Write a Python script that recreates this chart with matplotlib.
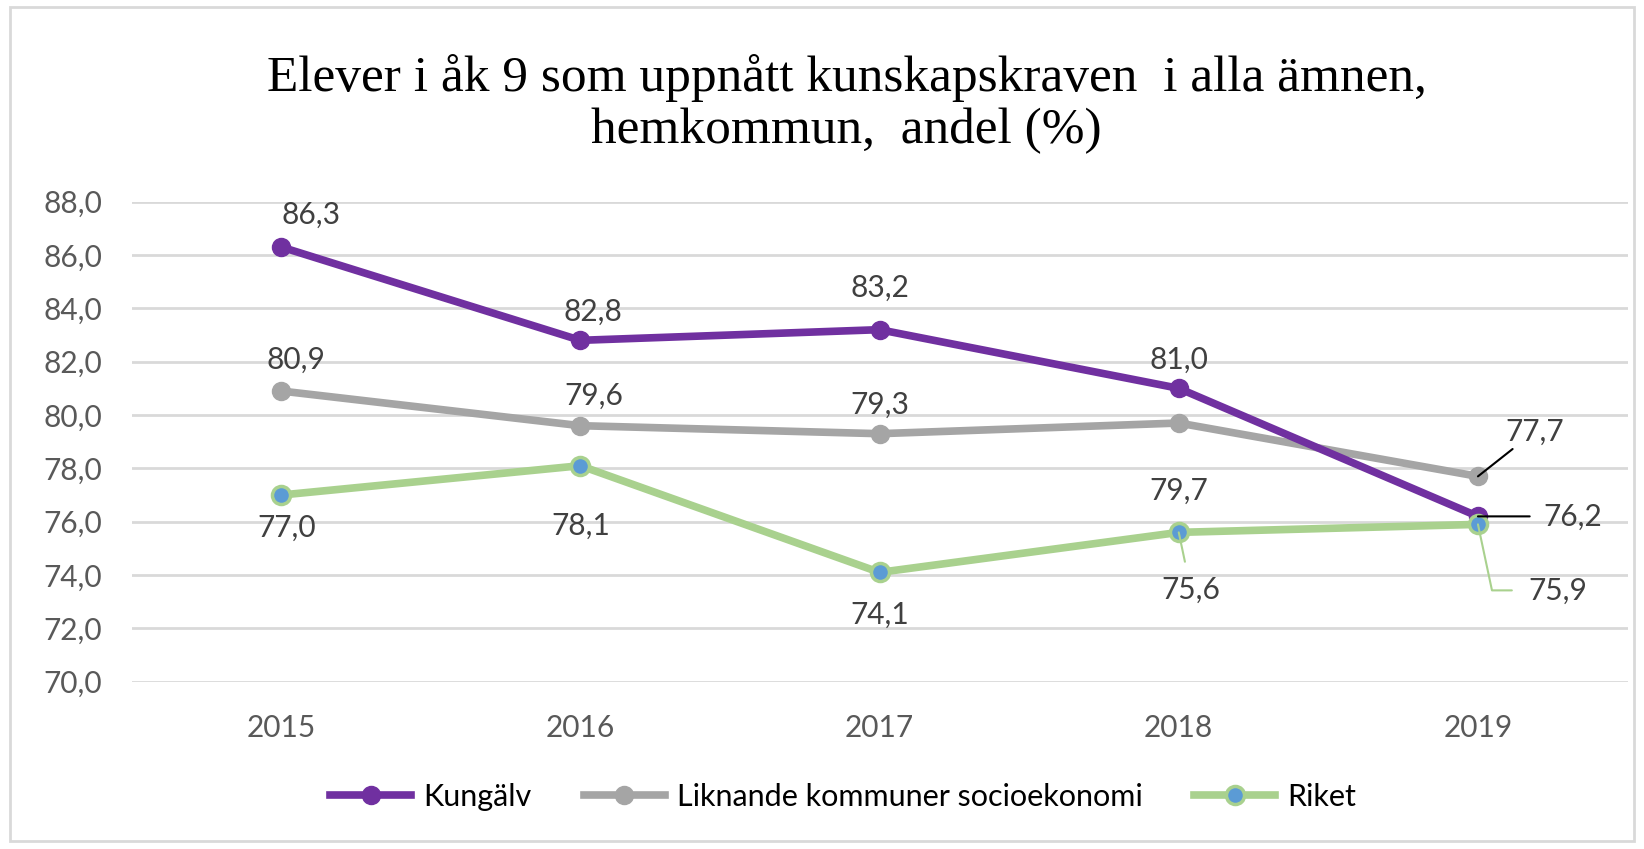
import matplotlib.pyplot as plt
from matplotlib.patches import Rectangle

# data
years = ["2015", "2016", "2017", "2018", "2019"]
kungalv = [86.3, 82.8, 83.2, 81.0, 76.2]
liknande = [80.9, 79.6, 79.3, 79.7, 77.7]
riket = [77.0, 78.1, 74.1, 75.6, 75.9]

# label offsets in pixels (dx, dy)
off_kungalv = [(30, 32), (13, 29), (0, 42), (0, 29), (95, 0)]
off_liknande = [(15, 31), (13, 30), (0, 29), (0, -68), (57, 45)]
off_riket = [(6, -33), (0, -60), (0, -42), (12, -57), (80, -66)]

purple = "#7030A0"
grey = "#A5A5A5"
green = "#A9D18E"
blue = "#5B9BD5"

plt.rcParams["font.family"] = ["Lato", "DejaVu Sans"]

fig = plt.figure(figsize=(16.44, 8.49), dpi=100)
ax = fig.add_axes([0.080, 0.197, 0.910, 0.5655])

x = list(range(len(years)))
ax.plot(x, kungalv, "-o", color=purple, lw=5.5, ms=13, label="Kungälv",
        clip_on=False, zorder=4)
ax.plot(x, liknande, "-o", color=grey, lw=5.5, ms=13,
        label="Liknande kommuner socioekonomi", clip_on=False, zorder=3)
ax.plot(x, riket, "-o", color=green, lw=5.5, ms=13, mfc=blue, mec=green,
        mew=2.5, label="Riket", clip_on=False, zorder=5)


def fmt(v):
    return f"{v:.1f}".replace(".", ",")


def put_labels(vals, offs, leader=None):
    for i, (v, (dx, dy)) in enumerate(zip(vals, offs)):
        kw = {}
        if leader is not None and i in leader:
            kw["arrowprops"] = leader[i]
        ax.annotate(fmt(v), (i, v), xytext=(dx, dy), textcoords="offset pixels",
                    ha="center", va="center", fontsize=21.5, color="#404040",
                    zorder=6, **kw)


put_labels(kungalv, off_kungalv,
           {4: dict(arrowstyle="-", color="black", lw=1.5, shrinkA=8, shrinkB=0)})
put_labels(liknande, off_liknande,
           {4: dict(arrowstyle="-", color="black", lw=1.5, shrinkA=1, shrinkB=0)})
put_labels(riket, off_riket,
           {3: dict(arrowstyle="-", color=green, lw=1.5, shrinkA=8, shrinkB=0),
            4: dict(arrowstyle="-", color=green, lw=1.5, shrinkA=10, shrinkB=0,
                    connectionstyle="angle,angleA=0,angleB=102,rad=0")})

ax.set_xlim(-0.5, 4.5)
ax.set_ylim(70, 88)
ax.set_yticks(range(70, 89, 2))
ax.set_yticklabels([fmt(t) for t in range(70, 89, 2)])
ax.set_xticks(x)
ax.set_xticklabels(years)
ax.tick_params(length=0, labelsize=21.5, colors="#595959")
ax.tick_params(axis="y", pad=21)
ax.tick_params(axis="x", pad=23)
ax.grid(axis="y", color="#D9D9D9", lw=2)
ax.set_axisbelow(True)
for s in ax.spines.values():
    s.set_visible(False)

fig.text(0.515, 1 - 104 / 849,
         "Elever i åk 9 som uppnått kunskapskraven  i alla ämnen,\nhemkommun,  andel (%)",
         ha="center", va="center", fontsize=37, family="Liberation Serif",
         linespacing=1.18)

fig.legend(loc="center", bbox_to_anchor=(0.513, 1 - 797 / 849), ncol=3,
           frameon=False, fontsize=22, handlelength=2.65, columnspacing=1.7,
           handletextpad=0.4)

fig.patches.append(Rectangle((0.006, 0.01), 0.988, 0.982, transform=fig.transFigure,
                             fill=False, edgecolor="#D9D9D9", lw=2))

fig.savefig("out.png", dpi=100)
